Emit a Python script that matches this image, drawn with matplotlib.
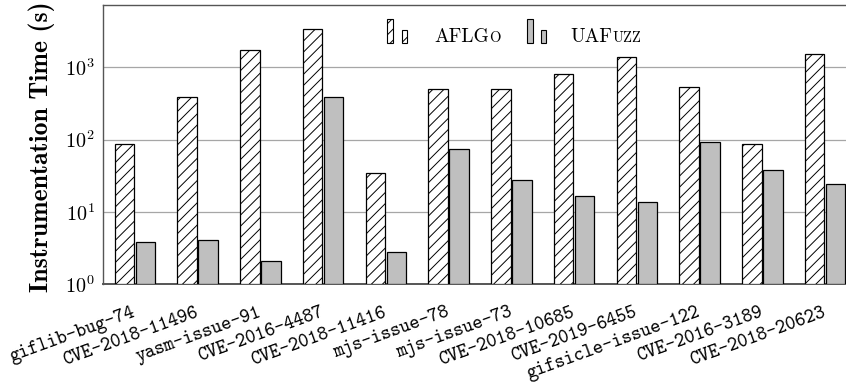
import matplotlib
matplotlib.use("Agg")
import matplotlib.pyplot as plt
from matplotlib.patches import Rectangle
from matplotlib.ticker import FuncFormatter, NullLocator
import numpy as np

# Instrumentation time per benchmark (seconds)
categories = [
    "giflib-bug-74", "CVE-2018-11496", "yasm-issue-91", "CVE-2016-4487",
    "CVE-2018-11416", "mjs-issue-78", "mjs-issue-73", "CVE-2018-10685",
    "CVE-2019-6455", "gifsicle-issue-122", "CVE-2016-3189", "CVE-2018-20623",
]
aflgo = [88, 390, 1760, 3400, 35, 500, 500, 810, 1380, 530, 86, 1530]
uafuzz = [3.8, 4.1, 2.1, 390, 2.8, 74, 28, 16.5, 13.7, 92, 38, 24]

plt.rcParams["mathtext.fontset"] = "cm"
plt.rcParams["hatch.linewidth"] = 0.7
plt.rcParams["axes.unicode_minus"] = False

W, H = 846, 383
fig = plt.figure(figsize=(W / 100, H / 100), dpi=100)


def fx(px):
    return px / W


def fy(py):
    return 1 - py / H


ax = fig.add_axes([fx(103), fy(284.3), fx(857) - fx(103), fy(5.3) - fy(284.3)])

BASE = 1  # bars start at the 10^0 baseline
x = np.arange(len(categories))
width = 0.31
off = 0.168
ax.bar(x - off, np.array(aflgo) - BASE, width, bottom=BASE, facecolor="white",
       edgecolor="black", hatch="///", linewidth=0.9, zorder=3)
ax.bar(x + off, np.array(uafuzz) - BASE, width, bottom=BASE, facecolor="#bfbfbf",
       edgecolor="black", linewidth=0.9, zorder=3)

ax.set_yscale("log")
ax.set_ylim(1, 10 ** 3.858)
ax.set_xlim(-0.507, len(categories) - 1 + 0.507)
ax.yaxis.set_minor_locator(NullLocator())
ax.set_yticks([1, 10, 100, 1000])
ax.yaxis.set_major_formatter(
    FuncFormatter(lambda v, p: r"$10^{%d}$" % int(round(np.log10(v)))))
ax.grid(axis="y", color="#a6a6a6", linewidth=0.9, zorder=1)
ax.tick_params(axis="both", length=0)
ax.tick_params(axis="y", pad=6, labelsize=14.5)
for s in ax.spines.values():
    s.set_color("#555555")
    s.set_linewidth(1.0)
ax.spines["bottom"].set_linewidth(1.4)

ax.set_xticks(x)
ax.set_xticklabels(categories, rotation=20, ha="right", va="center",
                   rotation_mode="anchor", fontfamily="cmtt10", fontsize=14)
ax.tick_params(axis="x", pad=20)

fig.text(fx(42), fy(147), "Instrumentation Time (s)", rotation=90,
         ha="center", va="center", fontfamily="cmb10", fontsize=18.5)

# legend drawn by hand: two small bars per entry, small-caps names
def swatch(x0, x1, y0, y1, **kw):
    fig.add_artist(Rectangle((fx(x0), fy(y1)), fx(x1) - fx(x0), fy(y0) - fy(y1),
                             transform=fig.transFigure, edgecolor="black",
                             linewidth=0.8, **kw))

swatch(387, 393, 19, 43, facecolor="white", hatch="///")
swatch(402, 407, 30, 43, facecolor="white", hatch="///")
swatch(527, 533, 19, 43, facecolor="#bfbfbf")
swatch(541, 546, 30, 43, facecolor="#bfbfbf")

base = fy(41.5)
t1 = fig.text(fx(434), base, "AFLG", va="baseline", ha="left",
              fontfamily="cmr10", fontsize=14)
ax.annotate("O", xy=(1, base), xycoords=(t1, "figure fraction"),
            xytext=(0.6, 0), textcoords="offset points",
            va="baseline", ha="left", fontfamily="cmr10", fontsize=10.5,
            annotation_clip=False)
t2 = fig.text(fx(570), base, "UAF", va="baseline", ha="left",
              fontfamily="cmr10", fontsize=14)
ax.annotate("UZZ", xy=(1, base), xycoords=(t2, "figure fraction"),
            xytext=(0.6, 0), textcoords="offset points",
            va="baseline", ha="left", fontfamily="cmr10", fontsize=10.5,
            annotation_clip=False)

fig.savefig("out.png", dpi=100)
